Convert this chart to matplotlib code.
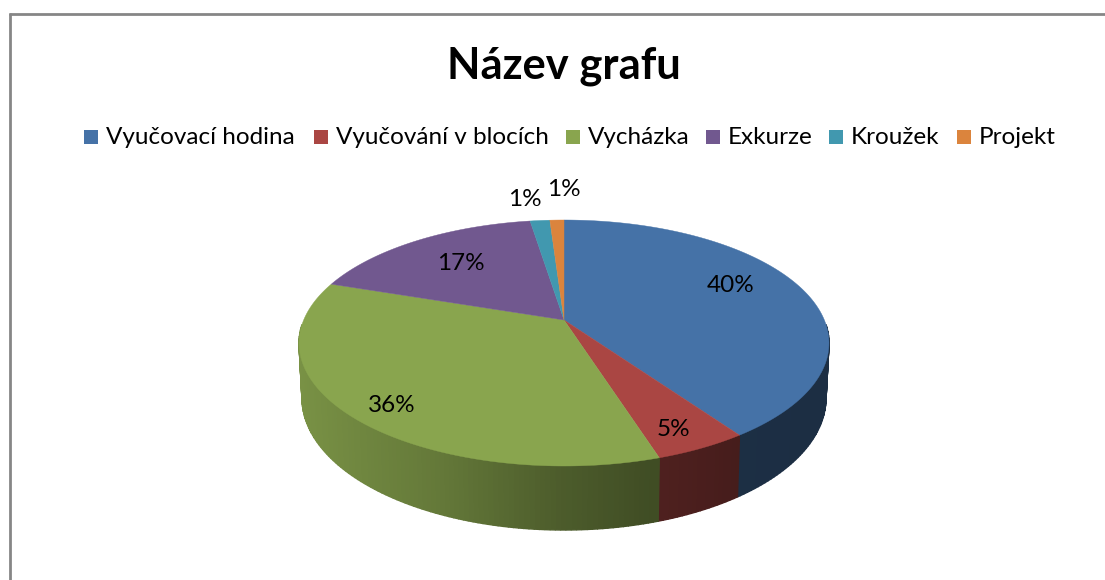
import numpy as np
import matplotlib
matplotlib.use("Agg")
import matplotlib.pyplot as plt
from matplotlib.patches import Polygon, Rectangle

categories = ["Vyučovací hodina", "Vyučování v blocích", "Vycházka", "Exkurze", "Kroužek", "Projekt"]
values = [39.9, 5.0, 35.8, 16.9, 1.4, 1.0]
colors = ["#4572A7", "#AA4643", "#89A54E", "#71588F", "#4198AF", "#DB843D"]

title = "Název grafu"

# layout in pixels of the 1105x580 picture
label_pos = [(731, 286), (673, 430), (392, 406), (461, 264), (525, 200), (564, 190)]
legend_x = [84, 314, 566, 706, 829, 957]
apex = (564, 320)
top_c, top_r = (564, 343), (265, 123)
bot_c, bot_r = (564, 398), (262, 132)

plt.rcParams["font.family"] = ["Lato", "DejaVu Sans"]

fig = plt.figure(figsize=(11.05, 5.8), dpi=100)
ax = fig.add_axes([0, 0, 1, 1])
ax.set_xlim(0, 1105)
ax.set_ylim(580, 0)
ax.axis("off")


def warp(t):
    # the perspective of the 3d pie squeezes the angles a bit
    return t - 8.6 * np.sin(np.radians(t))


def arc(t, c, r):
    a = np.radians(warp(t))
    return c[0] + r[0] * np.sin(a), c[1] - r[1] * np.cos(a)


def shade(x):
    return np.interp(x, [300, 450, 560, 650, 740, 830], [0.88, 0.72, 0.56, 0.47, 0.41, 0.40])


def darken(color, k):
    rgb = np.array(matplotlib.colors.to_rgb(color))
    return tuple(rgb * k)


# frame of the chart, only top and left are in the picture
ax.plot([9.5, 9.5], [580, 13], color="#868686", lw=2, solid_capstyle="butt")
ax.plot([8.5, 1105], [13.8, 13.8], color="#868686", lw=2, solid_capstyle="butt")

fractions = np.array(values) / sum(values)
edges = np.concatenate([[0], np.cumsum(fractions) * 360])

# side of the disc, thin strips from the right end to the left end
for i, col in enumerate(colors):
    lo, hi = max(edges[i], 90), min(edges[i + 1], 270)
    if hi <= lo:
        continue
    ts = np.append(np.arange(lo, hi, 1.0), hi)
    for t0, t1 in zip(ts[:-1], ts[1:]):
        pts = [arc(t0, top_c, top_r), arc(t1, top_c, top_r), arc(t1, bot_c, bot_r), arc(t0, bot_c, bot_r)]
        c = darken(col, shade(pts[0][0]))
        ax.add_patch(Polygon(pts, closed=True, facecolor=c, edgecolor=c, lw=1.0, zorder=2))

# top of the disc
for i, col in enumerate(colors):
    ts = np.linspace(edges[i], edges[i + 1], 200)
    xs, ys = arc(ts, top_c, top_r)
    pts = [apex] + list(zip(xs, ys))
    ax.add_patch(Polygon(pts, closed=True, facecolor=col, edgecolor=col, lw=0.3, zorder=3))

for v, (x, y) in zip(values, label_pos):
    ax.text(x, y, f"{v:.0f}%", fontsize=17.5, color="black", ha="center", va="center", zorder=5)

ax.text(564, 66, title, fontsize=31.3, fontweight="bold", color="black", ha="center", va="center")

for name, col, x in zip(categories, colors, legend_x):
    ax.add_patch(Rectangle((x, 130), 14, 14, facecolor=col, edgecolor="none"))
    ax.text(x + 22, 138, name, fontsize=17.5, color="black", ha="left", va="center")

fig.savefig("out.png", dpi=100)
